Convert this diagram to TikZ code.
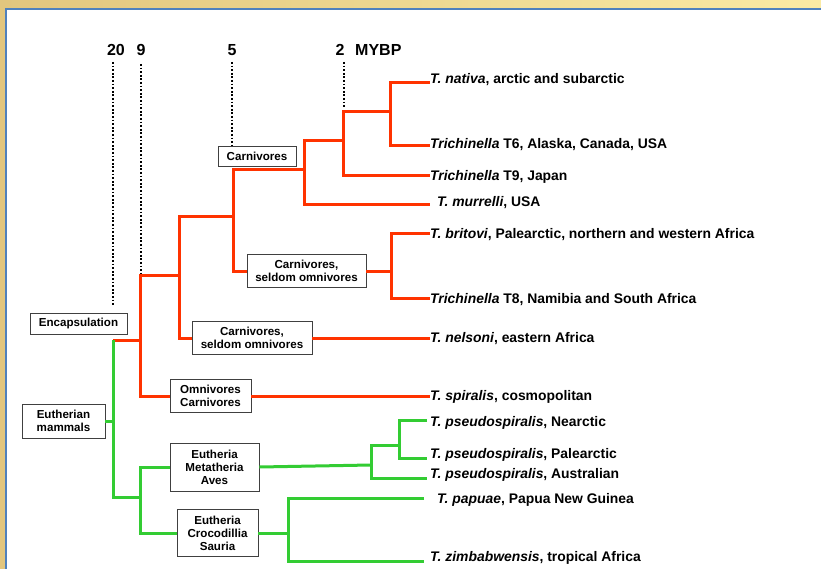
\documentclass[tikz,border=0pt]{standalone}
\usepackage{fontspec}
\setmainfont{Liberation Sans}
\definecolor{tred}{RGB}{255,51,0}
\definecolor{tgreen}{RGB}{51,204,51}
\definecolor{panelblue}{RGB}{79,129,189}
\definecolor{goldL}{RGB}{226,198,126}
\definecolor{goldR}{RGB}{250,234,164}
\begin{document}
\begin{tikzpicture}[x=1pt,y=-1pt,
  redl/.style={draw=tred, line width=3pt},
  greenl/.style={draw=tgreen, line width=3pt},
  box/.style={draw=black!75, line width=0.9pt, fill=white, align=center, inner sep=0pt,
    font=\fontsize{11.6}{12.9}\selectfont\bfseries},
  leaf/.style={anchor=base west, inner sep=0pt, font=\fontsize{13.9}{16}\selectfont\bfseries},
  hdr/.style={anchor=base, inner sep=0pt, font=\fontsize{16}{18}\selectfont\bfseries},
  dots/.style={draw=black, line width=2.2pt, dash pattern=on 1.8pt off 1.8pt}]
\clip (0,0) rectangle (821,569);
\useasboundingbox (0,0) rectangle (821,569);
\shade[left color=goldL, right color=goldR] (0,0) rectangle (821,569);
\draw[fill=white, draw=panelblue, line width=2.2pt] (6,9) rectangle (840,600);

% header
\node[hdr] (h20) at (116,56) {20};
\node[hdr] (h9) at (141,56) {9};
\node[hdr] (h5) at (232,56) {5};
\node[hdr] (h2) at (340,56) {2};
\node[hdr, anchor=base west] (hmy) at (355,56) {MYBP};

% dotted time lines
\coordinate (d20t) at (113,62);  \coordinate (d20b) at (113,305);
\coordinate (d9t) at (141,64);   \coordinate (d9b) at (141,275);
\coordinate (d5t) at (232,62);
\coordinate (d2t) at (344,62);   \coordinate (d2b) at (344,107);

% boxes
\node[box, minimum width=78pt, minimum height=20pt] (bCarn) at (257,156) {Carnivores};
\node[box, minimum width=119pt, minimum height=33pt] (bCS1) at (306.5,271) {Carnivores,\\seldom omnivores};
\node[box, minimum width=120pt, minimum height=33pt] (bCS2) at (252,338) {Carnivores,\\seldom omnivores};
\node[box, minimum width=81pt, minimum height=33pt] (bOC) at (210.5,396) {Omnivores\\Carnivores};
\node[box, minimum width=97pt, minimum height=21pt] (bEnc) at (78.5,323.5) {Encapsulation};
\node[box, minimum width=83pt, minimum height=34pt] (bEM) at (63.5,421) {Eutherian\\mammals};
\node[box, minimum width=89pt, minimum height=48pt] (bEMA) at (214.5,467) {Eutheria\\Metatheria\\Aves};
\node[box, minimum width=81pt, minimum height=47pt] (bECS) at (217.5,533) {Eutheria\\Crocodillia\\Sauria};

\draw[dots] (d20t) -- (d20b);
\draw[dots] (d9t) -- (d9b);
\draw[dots] (d5t) -- (d5t |- bCarn.north);
\draw[dots] (d2t) -- (d2b);

% leaf ends
\coordinate (eNat) at (430,83);
\coordinate (eT6)  at (430,146);
\coordinate (eT9)  at (430,176);
\coordinate (eMur) at (430,205);
\coordinate (eBri) at (430,234);
\coordinate (eT8)  at (430,298);
\coordinate (eNel) at (430,338);
\coordinate (eSpi) at (430,396);
\coordinate (eNea) at (427,420);
\coordinate (ePal) at (427,458);
\coordinate (eAus) at (427,478);
\coordinate (ePap) at (424,498);
\coordinate (eZim) at (424,561);

% leaf labels
\node[leaf] (lNat) at (430,84) {\textit{T. nativa}, arctic and subarctic};
\node[leaf] (lT6)  at (430,149) {\textit{Trichinella} T6, Alaska, Canada, USA};
\node[leaf] (lT9)  at (430,181) {\textit{Trichinella} T9, Japan};
\node[leaf] (lMur) at (437,207) {\textit{T. murrelli}, USA};
\node[leaf] (lBri) at (430,239) {\textit{T. britovi}, Palearctic, northern and western Africa};
\node[leaf] (lT8)  at (430,303) {\textit{Trichinella} T8, Namibia and South Africa};
\node[leaf] (lNel) at (430,342) {\textit{T. nelsoni}, eastern Africa};
\node[leaf] (lSpi) at (430,400) {\textit{T. spiralis}, cosmopolitan};
\node[leaf] (lNea) at (430,426) {\textit{T. pseudospiralis}, Nearctic};
\node[leaf] (lPal) at (430,458) {\textit{T. pseudospiralis}, Palearctic};
\node[leaf] (lAus) at (430,478) {\textit{T. pseudospiralis}, Australian};
\node[leaf] (lPap) at (437,503) {\textit{T. papuae}, Papua New Guinea};
\node[leaf] (lZim) at (430,561) {\textit{T. zimbabwensis}, tropical Africa};

% internal branch points
\coordinate (a) at (390,112);
\coordinate (b) at (343,141);
\coordinate (c) at (304,170);
\coordinate (d) at (233,217);
\coordinate (e) at (391,271);
\coordinate (f) at (179,275);
\coordinate (g) at (140,340);
\coordinate (r0) at (113,340);
\coordinate (rm) at (113,421);
\coordinate (rb) at (113,497);
\coordinate (h) at (140,497);
\coordinate (i) at (371,465);
\coordinate (j) at (399,445);
\coordinate (k) at (288,533);

% red tree
\draw[redl] (eNat) -| (a) |- (eT6);
\draw[redl] (a) -| (b) |- (eT9);
\draw[redl] (b) -| (c) |- (eMur);
\draw[redl] (c) -| (d) |- (bCS1.west);
\draw[redl] (bCS1.east) -- (e);
\draw[redl] (eBri) -| (e) |- (eT8);
\draw[redl] (d) -| (f) |- (bCS2.west);
\draw[redl] (bCS2.east) -- (eNel);
\draw[redl] (f) -| (g) |- (bOC.west);
\draw[redl] (bOC.east) -- (eSpi);
\draw[redl] (r0) -- (g);

% green tree
\draw[greenl] (r0) -- (rb) -- (h);
\draw[greenl] (bEM.east) -- (rm);
\draw[greenl] (bEMA.west) -| (h) |- (bECS.west);
\draw[greenl] (bEMA.east) -- (i);
\draw[greenl] (eNea) -| (j) |- (ePal);
\draw[greenl] (j) -| (i) |- (eAus);
\draw[greenl] (bECS.east) -- (k);
\draw[greenl] (ePap) -| (k) |- (eZim);
\end{tikzpicture}
\end{document}
